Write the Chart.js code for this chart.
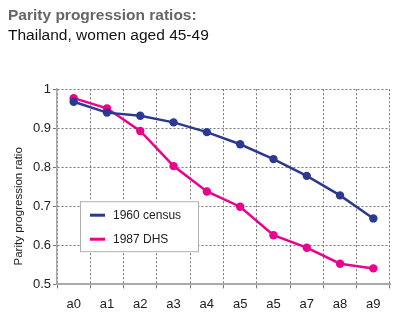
<!DOCTYPE html>
<html lang="en">
<head>
    <script src="https://cdn.jsdelivr.net/npm/chart.js"></script>
    <meta charset="UTF-8">
    <title>Parity progression ratios</title>
    <style>
        body { margin: 0; background: #fff; }
        .chart-container { width: 400px; height: 326px; }
    </style>
</head>
<body>
    <div class="chart-container">
        <canvas id="myChart"></canvas>
    </div>

    <script>
        // Data (the duplicated "a5" label is in the original)
        const parities = ['a0', 'a1', 'a2', 'a3', 'a4', 'a5', 'a5', 'a7', 'a8', 'a9'];
        const census1960 = [0.968, 0.940, 0.932, 0.915, 0.890, 0.859, 0.821, 0.778, 0.728, 0.669];
        const dhs1987 = [0.977, 0.951, 0.893, 0.803, 0.738, 0.699, 0.626, 0.594, 0.553, 0.541];
        const seriesNames = ['1960 census', '1987 DHS'];
        const yTicks = [0.5, 0.6, 0.7, 0.8, 0.9, 1];
        const yTitle = 'Parity progression ratio';

        const blue = '#2b3990';
        const pink = '#ec008c';
        const font = 'Arial, "Liberation Sans", sans-serif';

        // legend drawn inside the plot, in a white box
        const boxLegend = {
            id: 'boxLegend',
            afterDraw(chart) {
                const ctx = chart.ctx;
                const area = chart.chartArea;
                const x = area.left + 23, y = area.top + 112, w = 118, h = 50;
                ctx.save();
                ctx.fillStyle = '#fff';
                ctx.fillRect(x, y, w, h);
                ctx.strokeStyle = '#b0b0b0';
                ctx.lineWidth = 1;
                ctx.strokeRect(x + 0.5, y + 0.5, w, h);
                ctx.font = '12px ' + font;
                ctx.textBaseline = 'middle';
                chart.data.datasets.forEach((ds, i) => {
                    const ly = y + 14 + i * 24;
                    ctx.strokeStyle = ds.borderColor;
                    ctx.lineWidth = 3;
                    ctx.beginPath();
                    ctx.moveTo(x + 10, ly);
                    ctx.lineTo(x + 25, ly);
                    ctx.stroke();
                    ctx.fillStyle = '#222';
                    ctx.fillText(ds.label, x + 33, ly);
                });
                ctx.restore();
            }
        };

        // y axis title sits a bit below the middle of the plot in the original
        const yAxisTitle = {
            id: 'yAxisTitle',
            afterDraw(chart) {
                const ctx = chart.ctx;
                const area = chart.chartArea;
                ctx.save();
                ctx.translate(19, area.top + (area.bottom - area.top) * 0.6);
                ctx.rotate(-Math.PI / 2);
                ctx.font = '11.5px ' + font;
                ctx.fillStyle = '#222';
                ctx.textAlign = 'center';
                ctx.textBaseline = 'middle';
                ctx.fillText(yTitle, 0, 0);
                ctx.restore();
            }
        };

        const ctx = document.getElementById('myChart').getContext('2d');
        new Chart(ctx, {
            type: 'line',
            data: {
                labels: parities,
                datasets: [
                    {
                        label: seriesNames[0],
                        data: census1960,
                        borderColor: blue,
                        backgroundColor: blue,
                        borderWidth: 2.5,
                        pointRadius: 4.2,
                        pointBorderWidth: 0,
                        fill: false
                    },
                    {
                        label: seriesNames[1],
                        data: dhs1987,
                        borderColor: pink,
                        backgroundColor: pink,
                        borderWidth: 2.5,
                        pointRadius: 4.2,
                        pointBorderWidth: 0,
                        fill: false
                    }
                ]
            },
            options: {
                responsive: true,
                maintainAspectRatio: false,
                animation: false,
                layout: { padding: { left: 8, right: 10, top: 6, bottom: 6 } },
                plugins: {
                    legend: { display: false },
                    tooltip: { enabled: false },
                    title: {
                        display: true,
                        text: 'Parity progression ratios:',
                        align: 'start',
                        color: '#666',
                        font: { family: font, size: 15.5, weight: 'bold' },
                        padding: { top: 0, bottom: 2 }
                    },
                    subtitle: {
                        display: true,
                        text: 'Thailand, women aged 45-49',
                        align: 'start',
                        color: '#111',
                        font: { family: font, size: 15.5 },
                        padding: { top: 0, bottom: 44 }
                    }
                },
                scales: {
                    x: {
                        offset: true,
                        grid: {
                            offset: true,
                            color: '#777',
                            lineWidth: 1,
                            tickLength: 4
                        },
                        border: { display: true, color: '#aaa', width: 2, dash: [2, 2] },
                        ticks: {
                            color: '#222',
                            font: { family: font, size: 13 },
                            padding: 8
                        }
                    },
                    y: {
                        min: 0.5,
                        max: 1,
                        afterBuildTicks(scale) {
                            scale.ticks = yTicks.map(v => ({ value: v }));
                        },
                        afterFit(scale) { scale.width = 49; },
                        grid: {
                            color: '#777',
                            lineWidth: 1,
                            tickLength: 4
                        },
                        border: { display: true, color: '#aaa', width: 1.5, dash: [2, 2] },
                        ticks: {
                            color: '#222',
                            font: { family: font, size: 13 },
                            padding: 2,
                            callback: v => String(v)
                        }
                    }
                }
            },
            plugins: [boxLegend, yAxisTitle]
        });
    </script>
</body>
</html>
